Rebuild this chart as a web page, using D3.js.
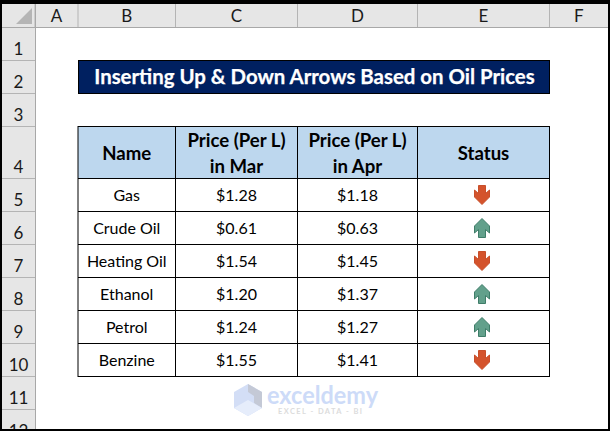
<!DOCTYPE html>
<html>
<head>
<meta charset="utf-8">
<script src="https://cdn.jsdelivr.net/npm/d3@7"></script>
<style>
html,body{margin:0;padding:0;background:#fff;}
svg{display:block;}
text{font-family:Lato,"Open Sans",sans-serif;}
</style>
</head>
<body>
<svg id="c" width="610" height="431"></svg>
<script>
const title = "Inserting Up & Down Arrows Based on Oil Prices";
const columnLetters = ["A","B","C","D","E","F"];
const rowNumbers = ["1","2","3","4","5","6","7","8","9","10","11","12"];
const headers = [["Name"],["Price (Per L)","in Mar"],["Price (Per L)","in Apr"],["Status"]];
const names = ["Gas","Crude Oil","Heating Oil","Ethanol","Petrol","Benzine"];
const priceMar = [1.28,0.61,1.54,1.20,1.24,1.55];
const priceApr = [1.18,0.63,1.45,1.37,1.27,1.41];

const W = 610, H = 431;
const svg = d3.select("#c");
const colEdges = [35,78,175.5,297.5,417.5,549.5,608];
const rowEdges = [27,60.5,93.5,126.5,178.5,211.5,244.5,277.5,310.5,343.5,376.5,409.5,442.5];
const fmt = d3.format("$.2f");
const FONT = 16;
const DARK = "#000";

svg.append("rect").attr("width",W).attr("height",H).attr("fill","#fff");

/* sheet headers */
svg.append("rect").attr("x",2).attr("y",4).attr("width",W-4).attr("height",23).attr("fill","#e6e6e6");
svg.append("rect").attr("x",2).attr("y",4).attr("width",33).attr("height",H-4).attr("fill","#e6e6e6");
svg.append("path").attr("d","M16,24 L32,8 L32,24 Z").attr("fill","#b5b5b5");

const gh = svg.append("g");
colEdges.slice(0,6).forEach(x=>gh.append("line").attr("x1",x).attr("x2",x).attr("y1",4).attr("y2",27).attr("stroke","#b4b4b4"));
gh.append("line").attr("x1",2).attr("x2",W-2).attr("y1",27.5).attr("y2",27.5).attr("stroke","#a8a8a8");
gh.append("line").attr("x1",35.5).attr("x2",35.5).attr("y1",4).attr("y2",H).attr("stroke","#a8a8a8");
rowEdges.slice(1,12).forEach(y=>gh.append("line").attr("x1",2).attr("x2",35).attr("y1",y).attr("y2",y).attr("stroke","#b4b4b4"));

columnLetters.forEach((l,i)=>{
  svg.append("text").attr("x",(colEdges[i]+colEdges[i+1])/2).attr("y",22)
    .attr("text-anchor","middle").attr("font-size",17).attr("fill","#1a1a1a").text(l);
});
rowNumbers.forEach((n,i)=>{
  svg.append("text").attr("x",18.5).attr("y",rowEdges[i+1]-6)
    .attr("text-anchor","middle").attr("font-size",17).attr("fill","#1a1a1a").text(n);
});

/* title */
svg.append("rect").attr("x",78.5).attr("y",60.5).attr("width",471).attr("height",33)
  .attr("fill","#002060").attr("stroke","#000");
svg.append("text").attr("x",314.5).attr("y",84).attr("text-anchor","middle")
  .attr("font-size",20.4).attr("font-weight",700).attr("fill","#fff")
  .attr("stroke","#fff").attr("stroke-width",0.25).text(title);

/* table */
const tcols = colEdges.slice(1,6);
svg.append("rect").attr("x",tcols[0]).attr("y",126.5).attr("width",tcols[4]-tcols[0]).attr("height",52).attr("fill","#bdd7ee");

const yRow = d3.scaleBand().domain(d3.range(names.length)).range([178.5,376.5]);
const cx = i => (tcols[i]+tcols[i+1])/2;

headers.forEach((lines,i)=>{
  lines.forEach((t,j)=>{
    const y = lines.length===1 ? 160 : 147+j*26;
    svg.append("text").attr("x",cx(i)).attr("y",y).attr("text-anchor","middle")
      .attr("font-size",18.6).attr("font-weight",700).attr("fill",DARK).text(t);
  });
});

const rows = svg.append("g").selectAll("g").data(names).join("g")
  .attr("transform",(d,i)=>`translate(0,${yRow(i)+yRow.bandwidth()/2+5.5})`);
rows.append("text").attr("x",cx(0)).attr("text-anchor","middle").attr("font-size",FONT).attr("fill",DARK).text(d=>d);
rows.append("text").attr("x",cx(1)).attr("text-anchor","middle").attr("font-size",FONT).attr("fill",DARK).text((d,i)=>fmt(priceMar[i]));
rows.append("text").attr("x",cx(2)).attr("text-anchor","middle").attr("font-size",FONT).attr("fill",DARK).text((d,i)=>fmt(priceApr[i]));

/* arrows: shape points upward, flipped when the price fell */
const arrowShape = d3.line()([[0,-9.5],[7.5,-2],[7.5,5],[3.5,1.5],[3.5,9.5],[-3.5,9.5],[-3.5,1.5],[-7.5,5],[-7.5,-2]])+"Z";
svg.append("g").selectAll("path").data(names).join("path")
  .attr("d",arrowShape)
  .attr("transform",(d,i)=>{
    const up = priceApr[i]>priceMar[i];
    return `translate(482,${yRow(i)+yRow.bandwidth()/2}) scale(1,${up?1:-1})`;
  })
  .attr("fill",(d,i)=>priceApr[i]>priceMar[i]?"#62a08b":"#d4532c")
  .attr("stroke",(d,i)=>priceApr[i]>priceMar[i]?"#3f7d69":"#c84f2b")
  .attr("stroke-width",1);

/* grid lines */
const gl = svg.append("g").attr("stroke","#000").attr("stroke-width",1);
[126.5,178.5,211.5,244.5,277.5,310.5,343.5,376.5].forEach(y=>gl.append("line").attr("x1",78).attr("x2",550).attr("y1",y).attr("y2",y));
tcols.forEach(x=>gl.append("line").attr("x1",x).attr("x2",x).attr("y1",126).attr("y2",377));

/* watermark */
const wm = svg.append("g");
wm.append("path").attr("d","M248,384 L262,392 L262,408 L248,416 L234,408 L234,392 Z").attr("fill","#d3def6");
wm.append("path").attr("d","M248,384 L262,392 L262,408 L254,403 L254,396 L248,392 Z").attr("fill","#c4c9d6");
wm.append("path").attr("d","M234,408 L248,400 L262,408 L248,416 Z").attr("fill","#e6edfb");
wm.append("text").attr("x",267).attr("y",403.5).attr("font-size",24).attr("font-weight",700)
  .attr("font-family","'Open Sans',sans-serif").attr("fill","#cddbf8")
  .attr("textLength",111).attr("lengthAdjust","spacingAndGlyphs").text("exceldemy");
wm.append("text").attr("x",278).attr("y",413.5).attr("font-size",7.5).attr("font-weight",700)
  .attr("fill","#dcdcdc").attr("textLength",84).text("EXCEL - DATA - BI");

/* outer frame */
svg.append("rect").attr("x",0).attr("y",0).attr("width",W).attr("height",4).attr("fill","#000");
svg.append("rect").attr("x",0).attr("y",H-2).attr("width",W).attr("height",2).attr("fill","#000");
svg.append("rect").attr("x",0).attr("y",0).attr("width",2).attr("height",H).attr("fill","#000");
svg.append("rect").attr("x",W-2).attr("y",0).attr("width",2).attr("height",H).attr("fill","#000");
</script>
</body>
</html>
